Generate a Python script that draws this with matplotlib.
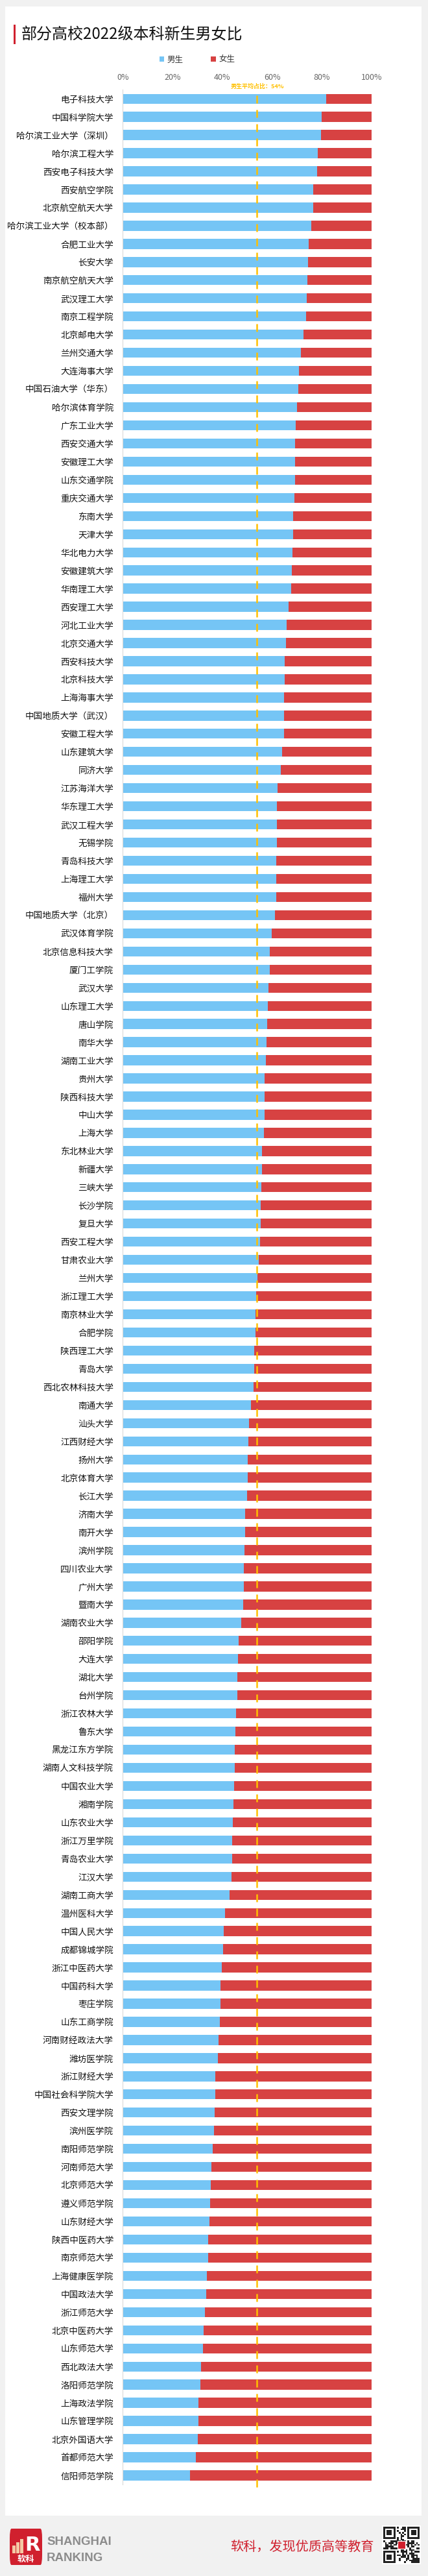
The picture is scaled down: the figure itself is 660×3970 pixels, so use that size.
import matplotlib
matplotlib.use("Agg")
import matplotlib.pyplot as plt
from matplotlib.patches import Rectangle, FancyBboxPatch, Patch
import numpy as np

plt.rcParams['font.family'] = ['Noto Sans CJK SC', 'DejaVu Sans']

# ---------------- data ----------------
universities = [
    "电子科技大学", "中国科学院大学", "哈尔滨工业大学（深圳）", "哈尔滨工程大学", "西安电子科技大学",
    "西安航空学院", "北京航空航天大学", "哈尔滨工业大学（校本部）", "合肥工业大学", "长安大学",
    "南京航空航天大学", "武汉理工大学", "南京工程学院", "北京邮电大学", "兰州交通大学",
    "大连海事大学", "中国石油大学（华东）", "哈尔滨体育学院", "广东工业大学", "西安交通大学",
    "安徽理工大学", "山东交通学院", "重庆交通大学", "东南大学", "天津大学",
    "华北电力大学", "安徽建筑大学", "华南理工大学", "西安理工大学", "河北工业大学",
    "北京交通大学", "西安科技大学", "北京科技大学", "上海海事大学", "中国地质大学（武汉）",
    "安徽工程大学", "山东建筑大学", "同济大学", "江苏海洋大学", "华东理工大学",
    "武汉工程大学", "无锡学院", "青岛科技大学", "上海理工大学", "福州大学",
    "中国地质大学（北京）", "武汉体育学院", "北京信息科技大学", "厦门工学院", "武汉大学",
    "山东理工大学", "唐山学院", "南华大学", "湖南工业大学", "贵州大学",
    "陕西科技大学", "中山大学", "上海大学", "东北林业大学", "新疆大学",
    "三峡大学", "长沙学院", "复旦大学", "西安工程大学", "甘肃农业大学",
    "兰州大学", "浙江理工大学", "南京林业大学", "合肥学院", "陕西理工大学",
    "青岛大学", "西北农林科技大学", "南通大学", "汕头大学", "江西财经大学",
    "扬州大学", "北京体育大学", "长江大学", "济南大学", "南开大学",
    "滨州学院", "四川农业大学", "广州大学", "暨南大学", "湖南农业大学",
    "邵阳学院", "大连大学", "湖北大学", "台州学院", "浙江农林大学",
    "鲁东大学", "黑龙江东方学院", "湖南人文科技学院", "中国农业大学", "湘南学院",
    "山东农业大学", "浙江万里学院", "青岛农业大学", "江汉大学", "湖南工商大学",
    "温州医科大学", "中国人民大学", "成都锦城学院", "浙江中医药大学", "中国药科大学",
    "枣庄学院", "山东工商学院", "河南财经政法大学", "潍坊医学院", "浙江财经大学",
    "中国社会科学院大学", "西安文理学院", "滨州医学院", "南阳师范学院", "河南师范大学",
    "北京师范大学", "遵义师范学院", "山东财经大学", "陕西中医药大学", "南京师范大学",
    "上海健康医学院", "中国政法大学", "浙江师范大学", "北京中医药大学", "山东师范大学",
    "西北政法大学", "洛阳师范学院", "上海政法学院", "山东管理学院", "北京外国语大学",
    "首都师范大学", "信阳师范学院",
]

male_pct = [
    81.8, 79.9, 79.7, 78.4, 78.0, 76.6, 76.5, 75.7, 74.8, 74.4,
    74.1, 73.9, 73.7, 72.7, 71.6, 70.7, 70.5, 70.0, 69.5, 69.3,
    69.2, 69.2, 69.1, 68.6, 68.6, 68.1, 67.9, 67.6, 66.6, 65.9,
    65.5, 65.2, 65.2, 64.8, 64.8, 64.7, 64.0, 63.4, 62.2, 61.9,
    61.9, 61.9, 61.8, 61.7, 61.6, 61.1, 59.8, 59.1, 59.0, 58.5,
    58.3, 58.1, 57.8, 57.6, 57.0, 57.0, 56.9, 56.8, 56.0, 55.9,
    55.7, 55.4, 55.4, 55.3, 54.6, 54.1, 53.5, 53.3, 53.3, 52.8,
    52.8, 52.6, 51.5, 50.8, 50.4, 50.3, 50.2, 49.9, 49.2, 49.1,
    49.0, 48.7, 48.7, 48.3, 47.5, 46.7, 46.3, 46.1, 46.0, 45.4,
    45.2, 45.1, 45.0, 44.8, 44.5, 44.1, 44.0, 43.9, 43.7, 43.0,
    41.1, 40.7, 40.4, 39.8, 39.4, 39.3, 39.1, 38.5, 38.2, 37.1,
    37.1, 37.0, 36.6, 36.1, 35.6, 35.3, 35.1, 34.9, 34.4, 34.3,
    33.7, 33.5, 33.0, 32.4, 32.3, 31.5, 31.1, 30.5, 30.3, 30.2,
    29.3, 27.0,
]
female_pct = [100 - m for m in male_pct]

avg_male = 54
series_names = ["男生", "女生"]
x_ticks = [0, 20, 40, 60, 80, 100]
x_tick_labels = ["0%", "20%", "40%", "60%", "80%", "100%"]
title = "部分高校2022级本科新生男女比"
avg_label = "男生平均占比：54%"
slogan = "软科，发现优质高等教育"

# ---------------- style ----------------
BLUE = "#75C5F5"
RED = "#D74242"
GOLD = "#FFC000"
W, H = 660, 3970

fig = plt.figure(figsize=(W / 100, H / 100), dpi=100)
fig.patch.set_facecolor("#f1f1f1")


def fx(px):
    return px / W


def fy(py):
    return 1 - py / H


# white card (behind everything)
fig.patches.append(Rectangle((fx(8), fy(3877)), fx(650) - fx(8), fy(10) - fy(3877),
                             transform=fig.transFigure, facecolor="white",
                             edgecolor="none", zorder=-10))

# title with red marker
fig.patches.append(Rectangle((fx(21), fy(68)), 3 / W, 30 / H, transform=fig.transFigure,
                             facecolor="#D0202E", edgecolor="none", zorder=1))
fig.text(fx(33), fy(53), title, ha="left", va="center", fontsize=17.3, color="#111111")

# legend
handles = [Patch(facecolor=BLUE, edgecolor="none"), Patch(facecolor=RED, edgecolor="none")]
fig.legend(handles, series_names, loc="center", bbox_to_anchor=(fx(304), fy(92)),
           ncol=2, frameon=False, fontsize=9, handlelength=0.6, handleheight=0.6,
           handletextpad=0.35, columnspacing=3.4, labelcolor="#333333")

# ---------------- main axes ----------------
n = len(universities)
spacing = 27.96
first_c = 152.2
top_px = first_c - spacing / 2
bot_px = first_c + (n - 1) * spacing + spacing / 2
left_px, right_px = 189.4, 572.9
ax = fig.add_axes([fx(left_px), fy(bot_px), (right_px - left_px) / W, (bot_px - top_px) / H])
ax.set_facecolor("none")
ax.set_zorder(2)
y = np.arange(n)
ax.barh(y, male_pct, height=0.55, color=BLUE, zorder=2)
ax.barh(y, female_pct, left=male_pct, height=0.55, color=RED, zorder=2)
ax.set_xlim(0, 100)
ax.set_ylim(n - 0.5, -0.5)

for s in ["top", "right", "bottom"]:
    ax.spines[s].set_visible(False)
ax.spines["left"].set_color("#d9d9d9")
ax.spines["left"].set_linewidth(0.8)

ax.xaxis.tick_top()
ax.set_xticks(x_ticks)
ax.set_xticklabels(x_tick_labels, fontsize=9, color="#666666")
ax.tick_params(axis="x", length=0, pad=9)
ax.set_yticks(y)
ax.set_yticklabels(universities, fontsize=9.8, color="#111111")
ax.tick_params(axis="y", length=0, pad=10.4)

# average line
ax.plot([avg_male, avg_male], [-0.19, n - 1 + 0.9], color=GOLD, lw=1.8,
        linestyle=(0, (4.8, 4.0)), zorder=5, clip_on=False)
ax.text(avg_male, -0.69, avg_label, ha="center", va="center", fontsize=6.5,
        fontweight="bold", color=GOLD, clip_on=False)

# ---------------- footer ----------------
logo = FancyBboxPatch((fx(15), fy(3953)), 50 / W, 56 / H, boxstyle="round,pad=0,rounding_size=0.004",
                      transform=fig.transFigure, facecolor="#D0202E", edgecolor="none")
fig.patches.append(logo)
for bx, bh in [(19, 12), (25, 17), (31, 22)]:
    fig.patches.append(Rectangle((fx(bx), fy(3935)), 4.5 / W, bh / H, transform=fig.transFigure,
                                 facecolor="#F3C9A4", edgecolor="none"))
fig.text(fx(50), fy(3922), "R", ha="center", va="center", fontsize=22, fontweight="bold",
         color="white", family="DejaVu Sans")
fig.text(fx(40), fy(3944), "软科", ha="center", va="center", fontsize=9.5, fontweight="bold",
         color="white")
fig.text(fx(72), fy(3917), "SHANGHAI", ha="left", va="center", fontsize=13.5, fontweight="bold",
         color="#8c8c8c", family="Liberation Sans")
fig.text(fx(72), fy(3942), "RANKING", ha="left", va="center", fontsize=13.5, fontweight="bold",
         color="#8c8c8c", family="Liberation Sans")
fig.text(fx(577), fy(3925), slogan, ha="right", va="center", fontsize=14.5, color="#D0202E")

# QR-like decoration
qx0, qy0, qs = 589, 3892, 60
fig.patches.append(Rectangle((fx(qx0), fy(qy0 + qs)), qs / W, qs / H, transform=fig.transFigure,
                             facecolor="white", edgecolor="none"))
mod = 21
cell = (qs - 4) / mod
bits = "".join(format(b, "08b") for b in slogan.encode("utf-8") * 4)
grid = np.zeros((mod, mod), dtype=int)
k = 0
for r in range(mod):
    for c in range(mod):
        grid[r, c] = int(bits[k % len(bits)])
        k += 7


def finder(r0, c0):
    for r in range(7):
        for c in range(7):
            edge = r in (0, 6) or c in (0, 6)
            core = 2 <= r <= 4 and 2 <= c <= 4
            grid[r0 + r, c0 + c] = 1 if (edge or core) else 0
    for i in range(-1, 8):
        for (rr, cc) in [(r0 + i, c0 + 7), (r0 + 7, c0 + i), (r0 + i, c0 - 1), (r0 - 1, c0 + i)]:
            if 0 <= rr < mod and 0 <= cc < mod and not (r0 <= rr < r0 + 7 and c0 <= cc < c0 + 7):
                grid[rr, cc] = 0


finder(0, 0)
finder(0, mod - 7)
finder(mod - 7, 0)
for r in range(mod):
    for c in range(mod):
        if grid[r, c]:
            fig.patches.append(Rectangle((fx(qx0 + 2 + c * cell), fy(qy0 + 2 + (r + 1) * cell)),
                                         cell / W, cell / H, transform=fig.transFigure,
                                         facecolor="#222222", edgecolor="none"))
fig.patches.append(Rectangle((fx(qx0 + qs / 2 - 6), fy(qy0 + qs / 2 + 6)), 12 / W, 12 / H,
                             transform=fig.transFigure, facecolor="#D0202E", edgecolor="white",
                             linewidth=0.8))

fig.savefig("out.png", dpi=100, facecolor=fig.get_facecolor())
